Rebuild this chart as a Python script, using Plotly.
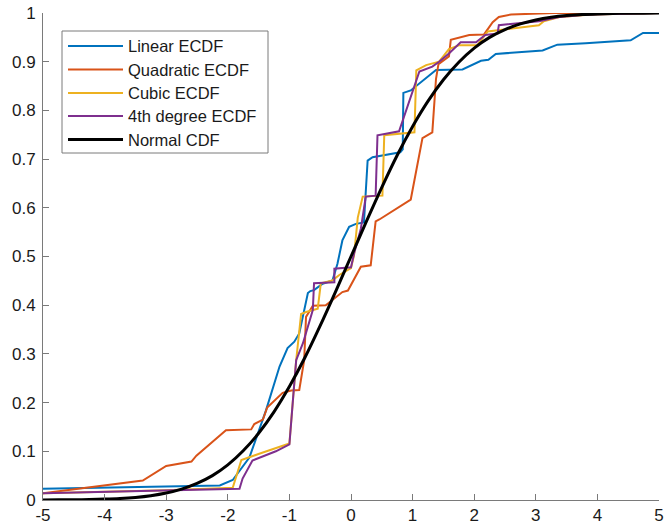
import plotly.graph_objects as go

# ---- data ----
lin_x = [-5, -2.13, -1.92, -1.78, -1.65, -1.38, -1.16, -1.03, -0.92, -0.84, -0.70, -0.66, -0.60,
         -0.46, -0.30, -0.22, -0.14, -0.03, 0.08, 0.21, 0.27, 0.35, 0.80, 0.84, 0.85, 0.97,
         1.27, 1.38, 1.81, 2.11, 2.23, 2.35, 3.11, 3.35, 3.81, 4.54, 4.74, 5.0]
lin_y = [0.023, 0.030, 0.041, 0.066, 0.087, 0.184, 0.274, 0.312, 0.325, 0.342, 0.425, 0.429, 0.431,
         0.444, 0.451, 0.485, 0.533, 0.561, 0.567, 0.570, 0.697, 0.704, 0.714, 0.720, 0.836, 0.841,
         0.872, 0.883, 0.884, 0.902, 0.904, 0.916, 0.923, 0.935, 0.938, 0.944, 0.959, 0.959]

quad_x = [-5, -3.38, -3.0, -2.59, -2.51, -2.03, -1.62, -1.57, -1.43, -1.36, -1.11, -0.97, -0.84,
          -0.76, -0.73, -0.62, -0.41, -0.14, -0.05, 0.16, 0.32, 0.40, 0.46, 0.97, 1.16, 1.32,
          1.38, 1.42, 1.59, 1.62, 1.92, 2.16, 2.30, 2.40, 2.60, 3.30, 5.0]
quad_y = [0.0137, 0.040, 0.070, 0.079, 0.091, 0.143, 0.145, 0.156, 0.165, 0.190, 0.220, 0.225, 0.226,
          0.287, 0.376, 0.399, 0.400, 0.427, 0.430, 0.479, 0.482, 0.572, 0.576, 0.617, 0.743, 0.755,
          0.865, 0.895, 0.911, 0.945, 0.955, 0.956, 0.981, 0.992, 0.997, 1.0, 1.0]

cub_x = [-5, -3.0, -1.92, -1.78, -1.49, -1.27, -1.0, -0.89, -0.81, -0.73, -0.54, -0.49, -0.30,
         -0.19, 0.0, 0.05, 0.11, 0.19, 0.51, 0.54, 1.03, 1.06, 1.22, 1.43, 1.59, 1.76, 2.05,
         2.22, 3.05, 3.13, 3.40, 3.90, 5.0]
cub_y = [0.014, 0.020, 0.025, 0.082, 0.095, 0.105, 0.116, 0.287, 0.382, 0.386, 0.393, 0.445, 0.451,
         0.462, 0.476, 0.503, 0.580, 0.623, 0.625, 0.749, 0.755, 0.882, 0.893, 0.900, 0.926, 0.934, 0.934,
         0.962, 0.975, 0.983, 0.992, 0.997, 1.0]

q4_x = [-5, -3.0, -1.81, -1.76, -1.60, -1.22, -1.0, -0.93, -0.89, -0.78, -0.68, -0.62, -0.60,
        -0.27, -0.27, 0.0, 0.05, 0.16, 0.24, 0.40, 0.43, 0.78, 1.11, 1.32, 1.43, 1.59, 1.78,
        2.03, 2.18, 2.38, 2.40, 3.05, 3.38, 3.86, 5.0]
q4_y = [0.0137, 0.0205, 0.023, 0.044, 0.081, 0.100, 0.114, 0.225, 0.287, 0.322, 0.362, 0.390, 0.445,
        0.447, 0.475, 0.478, 0.506, 0.557, 0.623, 0.625, 0.749, 0.757, 0.880, 0.890, 0.900, 0.917, 0.940,
        0.940, 0.955, 0.958, 0.975, 0.983, 0.992, 0.997, 1.0]

norm_x = [-5, -4.75, -4.5, -4.25, -4, -3.75, -3.5, -3.25, -3, -2.75, -2.5, -2.25, -2, -1.75, -1.5,
          -1.25, -1, -0.75, -0.5, -0.25, 0, 0.25, 0.5, 0.75, 1, 1.25, 1.5, 1.75, 2, 2.25, 2.5,
          2.75, 3, 3.25, 3.5, 3.75, 4, 4.25, 4.5, 4.75, 5]
norm_y = [0.0001, 0.0003, 0.0005, 0.0010, 0.0018, 0.0031, 0.0053, 0.0088, 0.0143, 0.0224, 0.034,
          0.050, 0.072, 0.101, 0.137, 0.181, 0.233, 0.292, 0.358, 0.428, 0.5, 0.572, 0.642, 0.708,
          0.767, 0.819, 0.863, 0.899, 0.928, 0.950, 0.966, 0.9776, 0.9857, 0.9912, 0.9947, 0.9969,
          0.9982, 0.9990, 0.9995, 0.9997, 0.9999]

x_ticks = [-5, -4, -3, -2, -1, 0, 1, 2, 3, 4, 5]
y_ticks = [0, 0.1, 0.2, 0.3, 0.4, 0.5, 0.6, 0.7, 0.8, 0.9, 1]
y_labels = ["0", "0.1", "0.2", "0.3", "0.4", "0.5", "0.6", "0.7", "0.8", "0.9", "1"]

names = ["Linear ECDF", "Quadratic ECDF", "Cubic ECDF", "4th degree ECDF", "Normal CDF"]
colors = ["#0072BD", "#D95319", "#EDB120", "#7E2F8E", "#000000"]
widths = [2, 2, 2, 2, 3]
xs_all = [lin_x, quad_x, cub_x, q4_x, norm_x]
ys_all = [lin_y, quad_y, cub_y, q4_y, norm_y]
shapes_line = ["linear", "linear", "linear", "linear", "spline"]

fig = go.Figure()
for name, xs, ys, col, w, sh in zip(names, xs_all, ys_all, colors, widths, shapes_line):
    fig.add_trace(go.Scatter(x=xs, y=ys, mode="lines", name=name,
                             line=dict(color=col, width=w, shape=sh), cliponaxis=False))

# ---- layout geometry (pixels) ----
W, H = 664, 532
ML, MR, MT, MB = 43, 5, 13, 32
PW, PH = W - ML - MR, H - MT - MB

def px_x(p):
    return (p - ML) / PW

def px_y(p):
    return (H - MB - p) / PH

# legend drawn as a box with sample lines and real text
leg_left, leg_right, leg_top, leg_bot = 62, 268, 31, 153
row_y = [46, 69.5, 93, 116, 139.5]
shapes = [dict(type="rect", xref="paper", yref="paper",
               x0=px_x(leg_left), x1=px_x(leg_right), y0=px_y(leg_bot), y1=px_y(leg_top),
               fillcolor="white", line=dict(color="#7a7a7a", width=1), layer="above")]
annotations = []
for name, col, w, ry in zip(names, colors, widths, row_y):
    shapes.append(dict(type="line", xref="paper", yref="paper",
                       x0=px_x(68), x1=px_x(123), y0=px_y(ry), y1=px_y(ry),
                       line=dict(color=col, width=w), layer="above"))
    annotations.append(dict(text=name, xref="paper", yref="paper", x=px_x(126), y=px_y(ry),
                            xanchor="left", yanchor="middle", showarrow=False,
                            font=dict(family="Liberation Sans, Arial, sans-serif", size=16.5,
                                      color="#1a1a1a")))

tick_font = dict(family="Liberation Sans, Arial, sans-serif", size=17, color="#1a1a1a")
axis_common = dict(showgrid=False, zeroline=False, showline=True, linecolor="#7a7a7a",
                   linewidth=1, ticks="inside", ticklen=6, tickcolor="#7a7a7a", tickwidth=1,
                   tickfont=tick_font, mirror=False, automargin=False)

fig.update_layout(
    width=W, height=H,
    margin=dict(l=ML, r=MR, t=MT, b=MB),
    paper_bgcolor="white", plot_bgcolor="white",
    xaxis=dict(range=[-5, 5], tickvals=x_ticks, ticktext=[str(v) for v in x_ticks], **axis_common),
    yaxis=dict(range=[0, 1], tickvals=y_ticks, ticktext=y_labels, ticklabelstandoff=3, **axis_common),
    showlegend=False,
    shapes=shapes,
    annotations=annotations,
)

fig.write_html("out.html", config={"displayModeBar": False},
               post_script="document.body.style.margin='0px';document.body.style.overflow='hidden';")
